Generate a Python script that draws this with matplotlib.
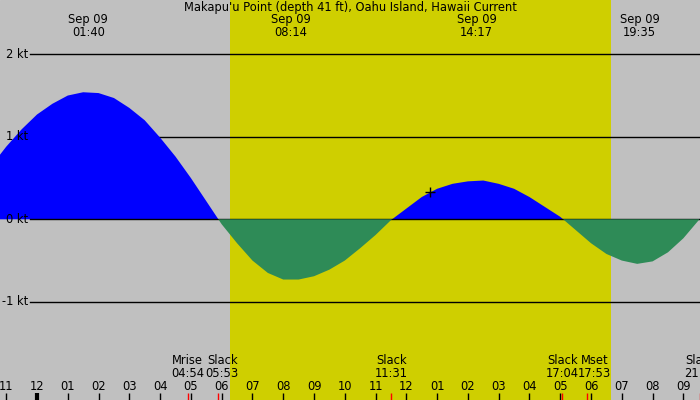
import numpy as np
import matplotlib
matplotlib.use("Agg")
import matplotlib.pyplot as plt
import matplotlib.transforms as mtransforms

title = "Makapu'u Point (depth 41 ft), Oahu Island, Hawaii Current"

# current speed (kt), read every half hour; hours after midnight Sep 09
hours = np.arange(-1.5, 22.01, 0.5)
speed = np.array([
    0.64, 0.88, 1.09, 1.27, 1.40, 1.50, 1.54, 1.53, 1.47, 1.35,
    1.20, 0.99, 0.76, 0.50, 0.22, -0.06, -0.29, -0.50, -0.65, -0.73,
    -0.73, -0.69, -0.61, -0.50, -0.35, -0.19, -0.01, 0.13, 0.27, 0.37,
    0.43, 0.46, 0.47, 0.43, 0.37, 0.27, 0.15, 0.03, -0.13, -0.29,
    -0.42, -0.50, -0.54, -0.51, -0.40, -0.23, -0.01, 0.21,
])

# max flood / max ebb events (labelled at the top)
max_times = [1 + 40/60, 8 + 14/60, 14 + 17/60, 19 + 35/60]
max_labels = ["01:40", "08:14", "14:17", "19:35"]

# slack and moon events (labelled at the bottom)
ev_names = ["Mrise", "Slack", "Slack", "Slack", "Mset", "Slack"]
ev_labels = ["04:54", "05:53", "11:31", "17:04", "17:53", "21:33"]
ev_times = [4 + 54/60, 5 + 53/60, 11 + 31/60, 17 + 4/60, 17 + 53/60, 21 + 33/60]
ev_shift = [0, 4, 0, 0, 7, 0]  # pixel nudges to keep labels apart

sunrise, sunset = 6 + 16/60, 18 + 39/60
now_time, now_speed = 12.77, 0.33
grid_kt = [2, 1, 0, -1]

plt.rcParams["font.family"] = "DejaVu Sans"
plt.rcParams["font.size"] = 8.3

fig = plt.figure(figsize=(7, 4), dpi=100)
ax = fig.add_axes([0, 0, 1, 1])
ax.set_xlim(-1.202, 21.54)
ax.set_ylim(-2.19, 2.658)
ax.axis("off")
ax.add_patch(plt.Rectangle((0, 0), 1, 1, transform=ax.transAxes,
                           color="#C0C0C0", zorder=0))
ax.axvspan(sunrise, sunset, color="#CFCF00", zorder=0.5, lw=0)

left = mtransforms.blended_transform_factory(ax.transAxes, ax.transData)
for g in grid_kt:
    if g != 0:
        ax.axhline(g, xmin=30/700, xmax=1, color="black", lw=1, zorder=1)
    ax.text(28/700, g, f"{g} kt", transform=left, ha="right", va="center", zorder=5)

ax.fill_between(hours, speed, 0, where=speed >= 0, interpolate=True,
                color="#0000FF", lw=0, zorder=2)
ax.axhline(0, xmin=30/700, xmax=1, color="black", lw=1, zorder=2.5)
ax.fill_between(hours, speed, 0, where=speed <= 0, interpolate=True,
                color="#2E8B57", lw=0, zorder=3)

ax.plot([now_time], [now_speed], marker="+", color="black", ms=7, mew=1, zorder=4)

blend = mtransforms.blended_transform_factory(ax.transData, ax.transAxes)

ax.text(0.5, 1 - 8/400, title, transform=ax.transAxes, ha="center", va="center")
for t, lab in zip(max_times, max_labels):
    ax.text(t, 1 - 20/400, "Sep 09", transform=blend, ha="center", va="center")
    ax.text(t, 1 - 32/400, lab, transform=blend, ha="center", va="center")

# hour ticks along the bottom
for h in range(-1, 22):
    lw = 3 if h == 0 else 1
    ax.plot([h, h], [0, 7/400], transform=blend, color="black", lw=lw,
            solid_capstyle="butt", zorder=6)
    hh = h % 12
    hh = 12 if hh == 0 else hh
    ax.text(h, 14/400, f"{hh:02d}", transform=blend, ha="center", va="center")

for name, lab, t, dx in zip(ev_names, ev_labels, ev_times, ev_shift):
    ax.plot([t, t], [0, 7/400], transform=blend, color="red", lw=1,
            solid_capstyle="butt", zorder=6)
    ax.annotate(name, xy=(t, 39/400), xycoords=blend, xytext=(dx, 0),
                textcoords="offset pixels", ha="center", va="center")
    ax.annotate(lab, xy=(t, 26.5/400), xycoords=blend, xytext=(dx, 0),
                textcoords="offset pixels", ha="center", va="center")

fig.savefig("out.png", dpi=100)
